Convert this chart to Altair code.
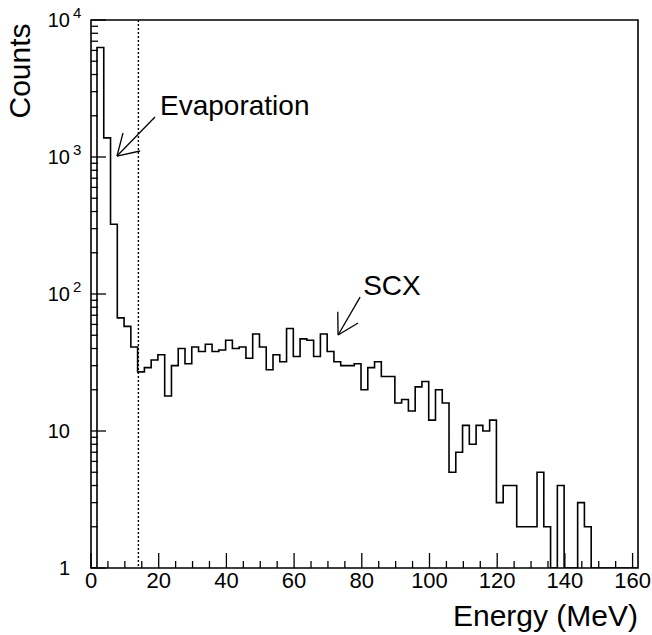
import altair as alt
import pandas as pd

# ---- data ----
counts = [6300, 1380, 323, 67, 58, 41, 27, 29, 33, 36,
          18, 30, 40, 31, 41, 38, 43, 38, 39, 46,
          40, 41, 34, 51, 41, 28, 36, 32, 56, 35,
          47, 46, 35, 51, 38, 32, 30, 30, 31, 20,
          29, 32, 25, 25, 16, 17, 14, 21, 23, 12,
          20, 16, 5, 7, 11, 8, 11, 10, 12, 3,
          4, 4, 2, 2, 2, 5, 2, 0, 4, 0,
          0, 3, 2]
bin_width = 2.0
first_edge = 1.77
x_max = 161.6
cut_energy = 14.0

x_major = [0, 20, 40, 60, 80, 100, 120, 140, 160]
x_minor = [v for v in range(5, 160, 5) if v % 20 != 0]
y_major = [1, 10, 100, 1000, 10000]
y_minor = [k * 10 ** d for d in range(4) for k in range(2, 10)]
y_base = ["1", "10", "10", "10", "10"]
y_exp = ["", "", "2", "3", "4"]

# annotation arrows (energy, counts)
arrow_x = [18.9, 7.68, 7.68, 79.5, 73.0, 73.0]
arrow_y = [1959, 1016, 1016, 95, 50.2, 50.2]
arrow_x2 = [7.68, 9.45, 14.5, 73.0, 72.9, 78.9]
arrow_y2 = [1016, 1497, 1106, 50.2, 74.3, 61.4]
note_text = ["Evaporation", "SCX"]
note_x = [20.4, 80.4]
note_y = [2026, 98.4]

FONT = "Liberation Sans"
W, H = 547, 548

# ---- build tables ----
pts_e = [0.0]
pts_n = [1.0]
for i, n in enumerate(counts):
    pts_e.append(first_edge + bin_width * i)
    pts_n.append(max(n, 1))
pts_e.append(first_edge + bin_width * len(counts))
pts_n.append(1.0)
pts_e.append(x_max)
pts_n.append(1.0)
hist = pd.DataFrame({"E": pts_e, "N": pts_n})

xs = alt.Scale(domain=[0, x_max], nice=False, zero=False)
ys = alt.Scale(type="log", domain=[1, 10000], nice=False)

line = alt.Chart(hist).mark_line(interpolate="step-after", color="black",
                                 strokeWidth=1.6, clip=True).encode(
    x=alt.X("E:Q", scale=xs, axis=None),
    y=alt.Y("N:Q", scale=ys, axis=None),
)

cut = alt.Chart(pd.DataFrame({"E": [cut_energy]})).mark_rule(
    color="black", strokeWidth=1.4, strokeDash=[2, 2]).encode(
    x=alt.X("E:Q", scale=xs))

xmaj = alt.Chart(pd.DataFrame({"E": x_major})).mark_rule(
    color="black", strokeWidth=1.3).encode(
    x=alt.X("E:Q", scale=xs), y=alt.value(H), y2=alt.value(H - 15))
xmin = alt.Chart(pd.DataFrame({"E": x_minor})).mark_rule(
    color="black", strokeWidth=1.3).encode(
    x=alt.X("E:Q", scale=xs), y=alt.value(H), y2=alt.value(H - 7))
ymaj = alt.Chart(pd.DataFrame({"N": y_major})).mark_rule(
    color="black", strokeWidth=1.3).encode(
    y=alt.Y("N:Q", scale=ys), x=alt.value(0), x2=alt.value(15))
ymin = alt.Chart(pd.DataFrame({"N": y_minor})).mark_rule(
    color="black", strokeWidth=1.3).encode(
    y=alt.Y("N:Q", scale=ys), x=alt.value(0), x2=alt.value(7))

xlab = alt.Chart(pd.DataFrame({"E": x_major, "t": [str(v) for v in x_major]})).mark_text(
    font=FONT, fontSize=22, color="black", align="center", baseline="alphabetic").encode(
    x=alt.X("E:Q", scale=xs), y=alt.value(H + 20), text="t:N")

ydf = pd.DataFrame({"N": y_major, "b": y_base, "e": y_exp})
ylab = alt.Chart(ydf).mark_text(
    font=FONT, fontSize=20, color="black", align="right", baseline="alphabetic", dy=7).encode(
    y=alt.Y("N:Q", scale=ys), x=alt.value(-21), text="b:N")
yexp = alt.Chart(ydf).mark_text(
    font=FONT, fontSize=15, color="black", align="left", baseline="alphabetic", dy=-2).encode(
    y=alt.Y("N:Q", scale=ys), x=alt.value(-18), text="e:N")

arrows = alt.Chart(pd.DataFrame({"x": arrow_x, "y": arrow_y, "x2": arrow_x2, "y2": arrow_y2})).mark_rule(
    color="black", strokeWidth=1.3).encode(
    x=alt.X("x:Q", scale=xs), y=alt.Y("y:Q", scale=ys), x2="x2:Q", y2="y2:Q")

notes = alt.Chart(pd.DataFrame({"x": note_x, "y": note_y, "t": note_text})).mark_text(
    font=FONT, fontSize=28, color="black", align="left", baseline="alphabetic").encode(
    x=alt.X("x:Q", scale=xs), y=alt.Y("y:Q", scale=ys), text="t:N")

blank = pd.DataFrame({"a": [0]})
ytitle = alt.Chart(blank).mark_text(
    text="Counts", font=FONT, fontSize=30, color="black", angle=270,
    align="center", baseline="middle").encode(x=alt.value(-70), y=alt.value(51))
xtitle = alt.Chart(blank).mark_text(
    text="Energy (MeV)", font=FONT, fontSize=30, color="black",
    align="right", baseline="alphabetic").encode(x=alt.value(W), y=alt.value(H + 58))

chart = alt.layer(line, cut, xmaj, xmin, ymaj, ymin, xlab, ylab, yexp,
                  arrows, notes, ytitle, xtitle).properties(
    width=W, height=H,
    autosize=alt.AutoSizeParams(type="none"),
    padding={"left": 91, "top": 20, "right": 14, "bottom": 67},
    background="white",
).configure_view(stroke="black", strokeWidth=1.6)

chart.save("out.html", embed_options={"renderer": "svg", "actions": False})
